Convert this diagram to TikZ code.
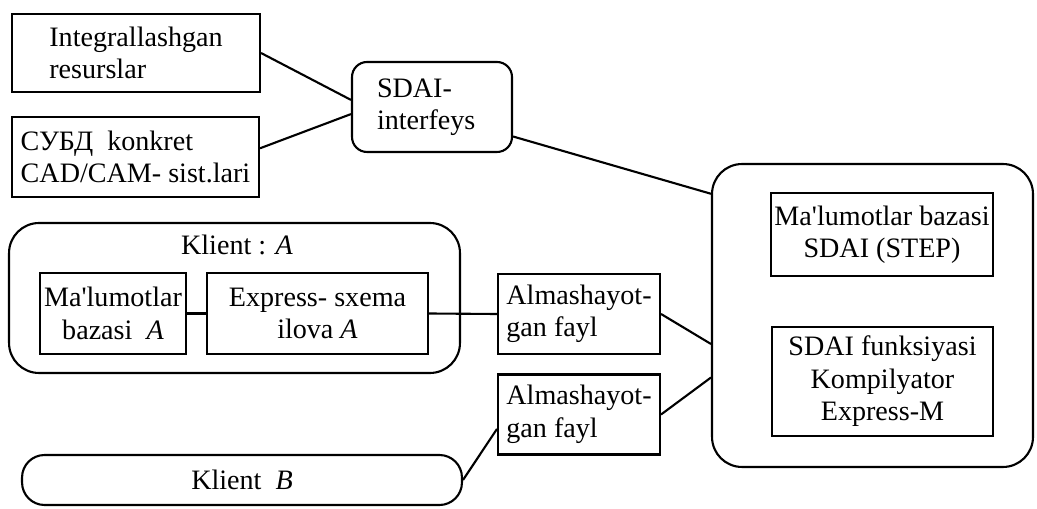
\documentclass[tikz,border=0pt]{standalone}
\usepackage{fontspec}
\setmainfont{Liberation Serif}
\usepackage{tikz}

\begin{document}
\begin{tikzpicture}[x=0.02cm, y=-0.02cm, line width=1.2pt,
	every node/.style={font=\fontsize{16}{18.5}\selectfont, inner sep=1pt},
	box/.style={draw, align=center},
	rbox/.style={draw, rounded corners=#1},
	link/.style={line width=1.2pt}]
	\useasboundingbox (0,0) rectangle (1037,509);
	\node[box, align=left, minimum width=4.96cm, minimum height=1.56cm] (integr) at (136,53) {Integrallashgan\\resurslar};
	\node[box, align=left, minimum width=4.94cm, minimum height=1.6cm] (subd) at (135.5,157) {СУБД\ \ konkret\\CAD/CAM- sist.lari};
	\node[rbox=0.3cm, align=left, minimum width=3.2cm, minimum height=1.8cm, text width=2.2cm] (sdai) at (432,107) {SDAI-\\interfeys};
	\node[rbox=0.6cm, minimum width=6.42cm, minimum height=6.06cm] (big) at (872.5,315.5) {};
	\node[box, minimum width=4.44cm, minimum height=1.66cm] (db) at (882,234.5) {Ma\textquotesingle lumotlar bazasi\\SDAI (STEP)};
	\node[box, minimum width=4.42cm, minimum height=2.18cm] (func) at (882.5,381.5) {SDAI funksiyasi\\Kompilyator\\Express-M};
	\foreach \n/\y in {alm1/314, alm2/414.5} {
		\node[box, align=left, minimum width=3.24cm, minimum height=1.6cm] (\n) at (579,\y) {Almashayot-\\gan fayl};
	}
	\node[rbox=0.6cm, minimum width=9.02cm, minimum height=3cm] (klientA) at (234.5,298) {};
	\node (klientAlbl) at (237,245) {Klient : \textit{A}};
	\node[box, minimum width=2.92cm, minimum height=1.62cm] (dbA) at (113,313.5) {Ma\textquotesingle lumotlar\\bazasi\ \ \textit{A}};
	\node[box, minimum width=4.42cm, minimum height=1.62cm] (expr) at (317.5,313.5) {Express- sxema\\ilova \textit{A}};
	\node[rbox=0.45cm, minimum width=8.8cm, minimum height=1cm] (klientB) at (242,480) {Klient\ \ \textit{B}};

	\draw[link] (integr.east) -- (sdai.175);
	\draw[link] (subd.4) -- (sdai.185);
	\draw[link] (sdai.-20) -- (big.143.6);
	\draw[link] (dbA.east) -- (expr.west);
	\draw[link] (expr.east) -- (alm1.west);
	\draw[link] (alm1.east) -- (big.190);
	\draw[link] (alm2.east) -- (big.201);
	\draw[link] (klientB.east) -- (alm2.190);
\end{tikzpicture}
\end{document}
